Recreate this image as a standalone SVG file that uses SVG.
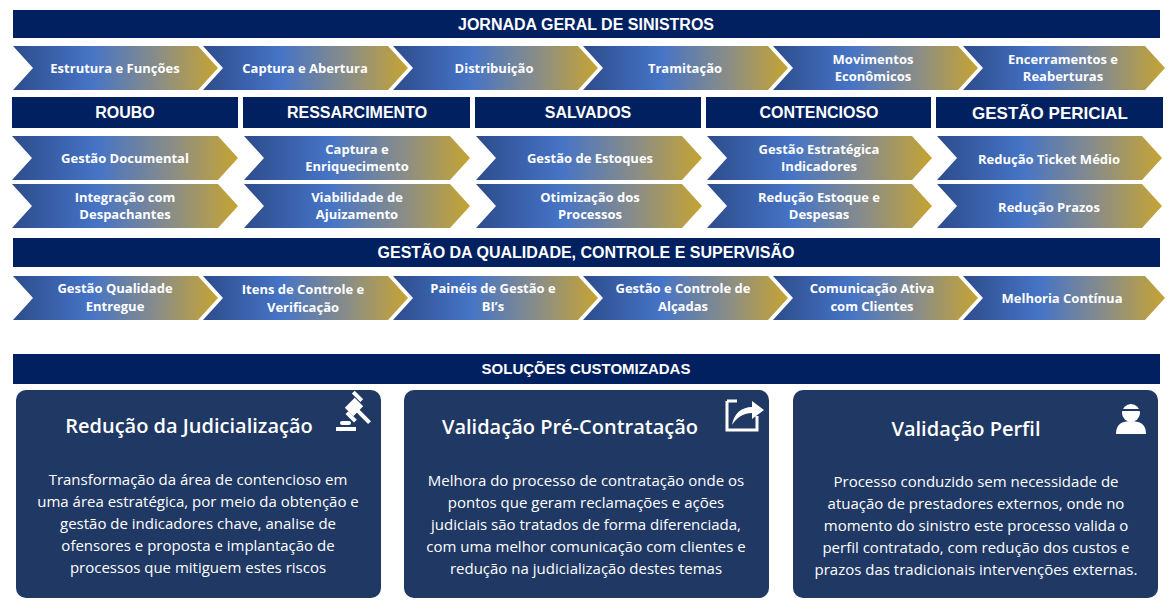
<svg xmlns="http://www.w3.org/2000/svg" width="1171" height="613" viewBox="0 0 1171 613">
<defs>
<linearGradient id="g" x1="0" y1="0" x2="1" y2="0">
<stop offset="0" stop-color="#2D4C8C"/><stop offset="0.38" stop-color="#4674C6"/><stop offset="0.72" stop-color="#8D8E84"/><stop offset="1" stop-color="#C6A432"/>
</linearGradient>
<style>
.bar{fill:#002060}
.hd{fill:#fff;font-family:"Liberation Sans",Arial,sans-serif;font-weight:bold;text-anchor:middle}
.ch{fill:url(#g)}
.ct{fill:#fff;font-family:"Open Sans","Noto Sans",sans-serif;font-weight:bold;font-size:13px;text-anchor:middle}
.card{fill:#203864}
.tt{fill:#fff;font-family:"Open Sans","Noto Sans",sans-serif;font-weight:600;font-size:20px;text-anchor:middle}
.bd{fill:#fff;font-family:"Open Sans","Noto Sans",sans-serif;font-size:15px;text-anchor:middle}
</style>
</defs>
<rect width="1171" height="613" fill="#fff"/>
<g id="title"><rect class="bar" x="13" y="10" width="1147" height="28"/><text class="hd" x="586" y="30" font-size="16">JORNADA GERAL DE SINISTROS</text></g>
<g id="row1">
<g id="c1"><path class="ch" d="M13 46H198L218 68L198 90H13L33 68Z"/><text class="ct" x="115" y="73">Estrutura e Funções</text></g>
<g id="c2"><path class="ch" d="M203 46H388L408 68L388 90H203L223 68Z"/><text class="ct" x="305" y="73">Captura e Abertura</text></g>
<g id="c3"><path class="ch" d="M393 46H578L598 68L578 90H393L413 68Z"/><text class="ct" x="494" y="73">Distribuição</text></g>
<g id="c4"><path class="ch" d="M583 46H768L788 68L768 90H583L603 68Z"/><text class="ct" x="685" y="73">Tramitação</text></g>
<g id="c5"><path class="ch" d="M773 46H958L978 68L958 90H773L793 68Z"/><text class="ct" x="873" y="64">Movimentos</text><text class="ct" x="873" y="81">Econômicos</text></g>
<g id="c6"><path class="ch" d="M963 46H1145L1165 68L1145 90H963L983 68Z"/><text class="ct" x="1063" y="64">Encerramentos e</text><text class="ct" x="1063" y="81">Reaberturas</text></g>
</g>
<g id="cats">
<g id="roubo"><rect class="bar" x="12" y="97" width="226" height="31"/><text class="hd" x="125" y="118" font-size="16">ROUBO</text></g>
<g id="ress"><rect class="bar" x="243" y="97" width="227" height="31"/><text class="hd" x="357" y="118" font-size="16">RESSARCIMENTO</text></g>
<g id="salv"><rect class="bar" x="475" y="97" width="226" height="31"/><text class="hd" x="588" y="118" font-size="16">SALVADOS</text></g>
<g id="cont"><rect class="bar" x="706" y="97" width="225" height="31"/><text class="hd" x="819" y="118" font-size="16">CONTENCIOSO</text></g>
<g id="peric"><rect class="bar" x="936" y="97" width="227" height="31"/><text class="hd" x="1050" y="119" font-size="17">GESTÃO PERICIAL</text></g>
</g>
<g id="row2">
<g><path class="ch" d="M12 136H218L238 158L218 180H12L32 158Z"/><text class="ct" x="125" y="163">Gestão Documental</text></g>
<g><path class="ch" d="M244 136H450L470 158L450 180H244L264 158Z"/><text class="ct" x="357" y="154">Captura e</text><text class="ct" x="357" y="171">Enriquecimento</text></g>
<g><path class="ch" d="M476 136H682L702 158L682 180H476L496 158Z"/><text class="ct" x="590" y="163">Gestão de Estoques</text></g>
<g><path class="ch" d="M707 136H912L932 158L912 180H707L727 158Z"/><text class="ct" x="819" y="154">Gestão Estratégica</text><text class="ct" x="819" y="171">Indicadores</text></g>
<g><path class="ch" d="M937 136H1142L1162 158L1142 180H937L957 158Z"/><text class="ct" x="1049" y="164">Redução Ticket Médio</text></g>
</g>
<g id="row3">
<g><path class="ch" d="M12 184H218L238 206L218 228H12L32 206Z"/><text class="ct" x="125" y="202">Integração com</text><text class="ct" x="125" y="219">Despachantes</text></g>
<g><path class="ch" d="M244 184H450L470 206L450 228H244L264 206Z"/><text class="ct" x="357" y="202">Viabilidade de</text><text class="ct" x="357" y="219">Ajuizamento</text></g>
<g><path class="ch" d="M476 184H682L702 206L682 228H476L496 206Z"/><text class="ct" x="590" y="202">Otimização dos</text><text class="ct" x="590" y="219">Processos</text></g>
<g><path class="ch" d="M707 184H912L932 206L912 228H707L727 206Z"/><text class="ct" x="819" y="202">Redução Estoque e</text><text class="ct" x="819" y="219">Despesas</text></g>
<g><path class="ch" d="M937 184H1142L1162 206L1142 228H937L957 206Z"/><text class="ct" x="1049" y="212">Redução Prazos</text></g>
</g>
<g id="qual"><rect class="bar" x="13" y="238" width="1147" height="29"/><text class="hd" x="586" y="258" font-size="16">GESTÃO DA QUALIDADE, CONTROLE E SUPERVISÃO</text></g>
<g id="row4">
<g><path class="ch" d="M13 276H198L218 298L198 320H13L33 298Z"/><text class="ct" x="115" y="293">Gestão Qualidade</text><text class="ct" x="115" y="311">Entregue</text></g>
<g><path class="ch" d="M203 276H388L408 298L388 320H203L223 298Z"/><text class="ct" x="303" y="294">Itens de Controle e</text><text class="ct" x="303" y="312">Verificação</text></g>
<g><path class="ch" d="M393 276H578L598 298L578 320H393L413 298Z"/><text class="ct" x="493" y="293">Painéis de Gestão e</text><text class="ct" x="493" y="311">BI’s</text></g>
<g><path class="ch" d="M583 276H768L788 298L768 320H583L603 298Z"/><text class="ct" x="683" y="293">Gestão e Controle de</text><text class="ct" x="683" y="311">Alçadas</text></g>
<g><path class="ch" d="M773 276H958L978 298L958 320H773L793 298Z"/><text class="ct" x="872" y="293">Comunicação Ativa</text><text class="ct" x="872" y="311">com Clientes</text></g>
<g><path class="ch" d="M963 276H1145L1165 298L1145 320H963L983 298Z"/><text class="ct" x="1062" y="303">Melhoria Contínua</text></g>
</g>
<g id="sol"><rect class="bar" x="13" y="354" width="1147" height="30"/><text class="hd" x="586" y="374" font-size="15">SOLUÇÕES CUSTOMIZADAS</text></g>
<g id="card1"><rect class="card" x="16" y="390" width="365" height="208" rx="10"/>
<text class="tt" x="189" y="433">Redução da Judicialização</text>
<g fill="#fff">
<rect x="348" y="400" width="12" height="14" transform="rotate(45 354 407)"/>
<rect x="343" y="395" width="12" height="4" transform="rotate(45 354 407)"/>
<rect x="353" y="414" width="12" height="4" transform="rotate(45 354 407)"/>
<rect x="358" y="405" width="18" height="4" transform="rotate(45 354 407)"/>
<rect x="340" y="421" width="11" height="4" rx="2"/><rect x="336" y="427" width="20" height="4"/></g>
<text class="bd" x="198" y="485">Transformação da área de contencioso em</text>
<text class="bd" x="198" y="507">uma área estratégica, por meio da obtenção e</text>
<text class="bd" x="198" y="529">gestão de indicadores chave, analise de</text>
<text class="bd" x="198" y="551">ofensores e proposta e implantação de</text>
<text class="bd" x="198" y="573">processos que mitiguem estes riscos</text></g>
<g id="card2"><rect class="card" x="404" y="390" width="365" height="208" rx="10"/>
<text class="tt" x="570" y="434">Validação Pré-Contratação</text>
<path d="M727 401H737M727 401V430H757V416" stroke="#fff" stroke-width="3" fill="none"/>
<path d="M732 425C734 413 742 407 752 407V401L764 410L752 419V413C744 413 737 417 732 425Z" fill="#fff"/>
<text class="bd" x="586" y="486">Melhora do processo de contratação onde os</text>
<text class="bd" x="586" y="508">pontos que geram reclamações e ações</text>
<text class="bd" x="586" y="530">judiciais são tratados de forma diferenciada,</text>
<text class="bd" x="586" y="552">com uma melhor comunicação com clientes e</text>
<text class="bd" x="586" y="574">redução na judicialização destes temas</text></g>
<g id="card3"><rect class="card" x="793" y="390" width="365" height="208" rx="10"/>
<text class="tt" x="966" y="436">Validação Perfil</text>
<g fill="#fff"><circle cx="1131" cy="413" r="9"/><path d="M1116 434C1116 424 1122 421 1131 421C1140 421 1146 424 1146 434Z"/></g>
<path d="M1122 410H1140" stroke="#203864" stroke-width="2"/>
<text class="bd" x="976" y="487">Processo conduzido sem necessidade de</text>
<text class="bd" x="976" y="509">atuação de prestadores externos, onde no</text>
<text class="bd" x="976" y="531">momento do sinistro este processo valida o</text>
<text class="bd" x="976" y="553">perfil contratado, com redução dos custos e</text>
<text class="bd" x="976" y="575">prazos das tradicionais intervenções externas.</text></g>
</svg>
